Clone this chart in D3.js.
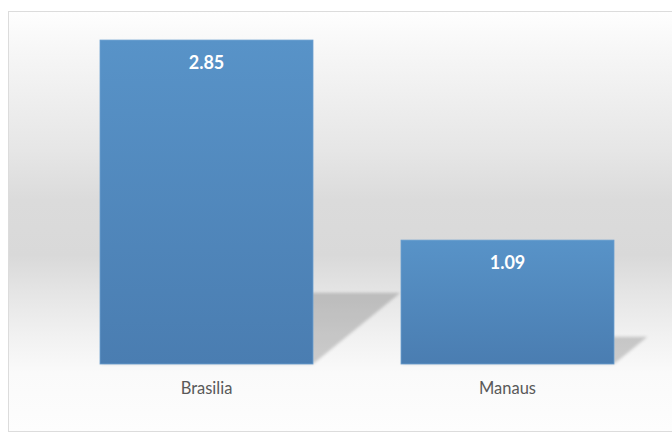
<!DOCTYPE html>
<html>
<head>
<meta charset="utf-8">
<script src="https://cdn.jsdelivr.net/npm/d3@7/dist/d3.min.js"></script>
<style>
  html, body { margin: 0; padding: 0; background: #ffffff; }
  svg { display: block; }
</style>
</head>
<body>
<script>
const categories = ["Brasilia", "Manaus"];
const values = [2.85, 1.09];
const valueLabels = ["2.85", "1.09"];

const W = 672, H = 433;
const svg = d3.select("body").append("svg").attr("width", W).attr("height", H);
const defs = svg.append("defs");

// background gradient
const bg = defs.append("linearGradient").attr("id", "bg").attr("x1", 0).attr("y1", 0).attr("x2", 0).attr("y2", 1);
[[0, "#fefefe"], [0.1, "#f6f6f6"], [0.33, "#e6e6e6"], [0.45, "#dbdbdb"], [0.58, "#d9d9d9"],
 [0.67, "#e5e5e5"], [0.77, "#f1f1f1"], [0.86, "#fafafa"], [1, "#fdfdfd"]]
  .forEach(([o, c]) => bg.append("stop").attr("offset", o).attr("stop-color", c));

const barG = defs.append("linearGradient").attr("id", "barg").attr("x1", 0).attr("y1", 0).attr("x2", 0).attr("y2", 1);
barG.append("stop").attr("offset", 0).attr("stop-color", "#5893c8");
barG.append("stop").attr("offset", 1).attr("stop-color", "#4a7db1");

const blur = defs.append("filter").attr("id", "blur").attr("x", "-20%").attr("y", "-20%").attr("width", "140%").attr("height", "140%");
blur.append("feGaussianBlur").attr("stdDeviation", 1.6);

svg.append("rect").attr("x", 8.5).attr("y", 11.5).attr("width", 700).attr("height", 420)
  .attr("fill", "url(#bg)").attr("stroke", "#dcdcdc").attr("stroke-width", 1);

const x = d3.scaleBand().domain(categories).range([56, 658]).paddingInner(0.2924).paddingOuter(0.1462);
const y = d3.scaleLinear().domain([0, 3]).range([364, 23]);

const data = categories.map((c, i) => ({ c, v: values[i], label: valueLabels[i] }));

// perspective shadows
svg.append("g").selectAll("path").data(data).join("path")
  .attr("d", d => {
    const xl = x(d.c), xr = xl + x.bandwidth();
    const b = y(0), h = y(0) - y(d.v);
    const dx = 0.27 * h, dy = 0.22 * h;
    return `M${xl},${b}L${xr},${b}L${xr + dx},${b - dy}L${xl + dx},${b - dy}Z`;
  })
  .attr("fill", "#000").attr("fill-opacity", 0.18).attr("filter", "url(#blur)");

// bars
svg.append("g").selectAll("rect").data(data).join("rect")
  .attr("x", d => x(d.c)).attr("y", d => y(d.v))
  .attr("width", x.bandwidth()).attr("height", d => y(0) - y(d.v))
  .attr("fill", "url(#barg)").attr("stroke", "#6a9fd0").attr("stroke-width", 0.8);

// value labels
svg.append("g").selectAll("text").data(data).join("text")
  .attr("x", d => x(d.c) + x.bandwidth() / 2).attr("y", d => y(d.v) + 29)
  .attr("text-anchor", "middle").attr("fill", "#ffffff")
  .attr("font-family", "Lato, 'Open Sans', sans-serif").attr("font-weight", "bold").attr("font-size", 18)
  .text(d => d.label);

// category axis labels
const xAxis = d3.axisBottom(x).tickSize(0).tickPadding(0);
const ax = svg.append("g").attr("transform", `translate(0,${y(0)})`).call(xAxis);
ax.select(".domain").remove();
ax.selectAll("text").attr("dy", null).attr("y", 30)
  .attr("fill", "#595959").attr("font-family", "Lato, 'Open Sans', sans-serif").attr("font-size", 16.5);
</script>
</body>
</html>
